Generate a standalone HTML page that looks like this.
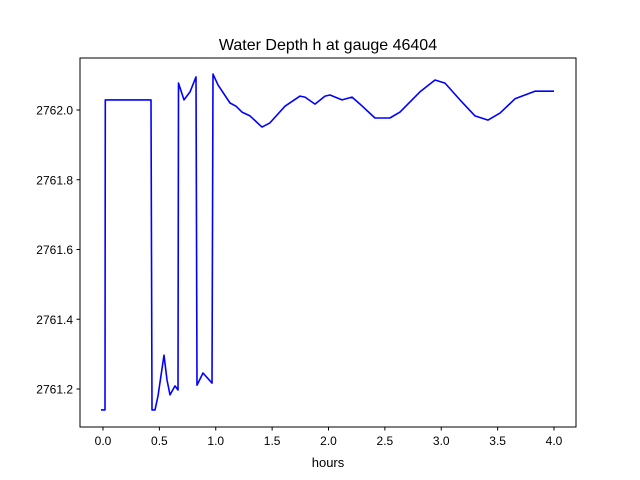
<!DOCTYPE html>
<html><head><meta charset="utf-8"><style>
body{margin:0;background:#fff;}
svg{display:block;font-family:"Liberation Sans","DejaVu Sans",sans-serif;}
</style></head><body>
<svg id="chart" width="640" height="480">
<rect width="640" height="480" fill="#fff"/>
<text x="328" y="50" text-anchor="middle" font-size="16">Water Depth h at gauge 46404</text>
<g id="ticks"></g>
<polyline id="series" fill="none" stroke="#0000ff" stroke-width="1.6" stroke-linejoin="round"/>
<rect x="80" y="58" width="496" height="369" fill="none" stroke="#000" stroke-width="1"/>
<text x="328" y="467" text-anchor="middle" font-size="13">hours</text>
</svg>
<script>
const hours=[-0.018,0.018,0.02,0.426,0.435,0.461,0.488,0.541,0.568,0.594,0.639,0.665,0.67,0.718,0.772,0.825,0.834,0.887,0.967,0.976,1.02,1.126,1.18,1.233,1.304,1.41,1.48,1.614,1.747,1.792,1.88,1.969,2.013,2.12,2.208,2.279,2.412,2.545,2.634,2.811,2.945,3.033,3.166,3.299,3.415,3.521,3.654,3.831,4.0];
const depth=[2761.14,2761.14,2762.029,2762.029,2761.14,2761.14,2761.18,2761.297,2761.226,2761.183,2761.209,2761.197,2762.077,2762.029,2762.052,2762.095,2761.211,2761.246,2761.217,2762.103,2762.072,2762.02,2762.011,2761.994,2761.983,2761.951,2761.963,2762.011,2762.04,2762.037,2762.017,2762.04,2762.043,2762.029,2762.037,2762.017,2761.977,2761.977,2761.994,2762.052,2762.086,2762.077,2762.029,2761.983,2761.971,2761.991,2762.032,2762.054,2762.054];
const xTicks=["0.0","0.5","1.0","1.5","2.0","2.5","3.0","3.5","4.0"];
const yTicks=["2761.2","2761.4","2761.6","2761.8","2762.0"];
function xs(v){return 103+(v-0)*112.75;}
function ys(v){return 110+(2762-v)*348.75;}
const ns="http://www.w3.org/2000/svg";
const g=document.getElementById('ticks');
xTicks.forEach(t=>{
  const x=xs(parseFloat(t));
  const l=document.createElementNS(ns,'line');
  l.setAttribute('x1',x);l.setAttribute('x2',x);l.setAttribute('y1',427);l.setAttribute('y2',430.5);l.setAttribute('stroke','#000');
  
  
  g.appendChild(l);
  const tx=document.createElementNS(ns,'text');
  tx.setAttribute('x',x);tx.setAttribute('y',445);tx.setAttribute('text-anchor','middle');tx.setAttribute('font-size','12');
  tx.textContent=t;
  
  
  g.appendChild(tx);
});
yTicks.forEach(t=>{
  const y=ys(parseFloat(t));
  const l=document.createElementNS(ns,'line');
  l.setAttribute('x1',76.5);l.setAttribute('x2',80);l.setAttribute('y1',y);l.setAttribute('y2',y);l.setAttribute('stroke','#000');
  
  
  g.appendChild(l);
  const tx=document.createElementNS(ns,'text');
  tx.setAttribute('x',73);tx.setAttribute('y',y+4.5);tx.setAttribute('text-anchor','end');tx.setAttribute('font-size','12');
  tx.textContent=t;
  
  
  g.appendChild(tx);
});
document.getElementById('series').setAttribute('points',hours.map((h,i)=>xs(h).toFixed(1)+','+ys(depth[i]).toFixed(1)).join(' '));
</script>
</body></html>
